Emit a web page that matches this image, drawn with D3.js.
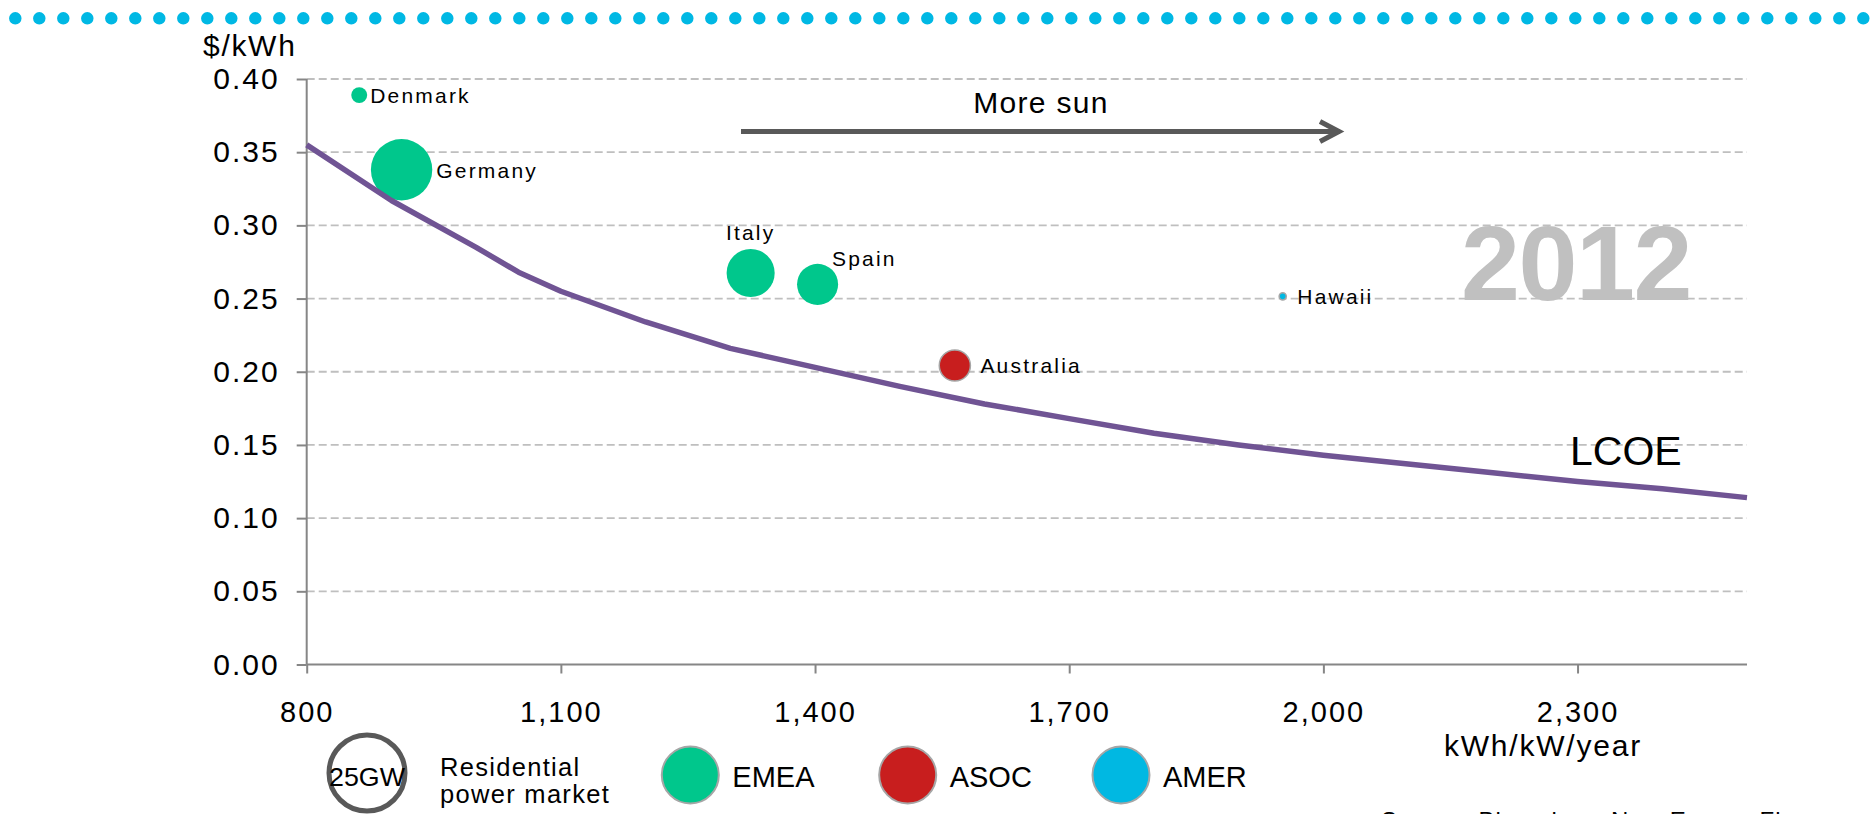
<!DOCTYPE html>
<html>
<head>
<meta charset="utf-8">
<script src="https://cdn.jsdelivr.net/npm/d3@7"></script>
<style>
  html, body { margin: 0; padding: 0; background: #fff; }
  svg { display: block; }
  text { font-family: "Liberation Sans", Arial, sans-serif; fill: #000; }
</style>
</head>
<body>
<svg id="chart" width="1874" height="814"></svg>
<script>
// ---------------- DATA ----------------
const xTicks = [800, 1100, 1400, 1700, 2000, 2300];
const yTicks = [0, 0.05, 0.10, 0.15, 0.20, 0.25, 0.30, 0.35, 0.40];

const markets    = ["Denmark", "Germany", "Italy", "Spain", "Australia", "Hawaii"];
const irradiance = [862, 912, 1324, 1403, 1565, 1952];          // kWh/kW/year
const price      = [0.389, 0.338, 0.2675, 0.2597, 0.2043, 0.2515]; // $/kWh
const marketGW   = [1.1, 16.3, 10.0, 7.3, 4.2, 0.22];            // residential power market
const regionOf   = ["EMEA", "EMEA", "EMEA", "EMEA", "ASOC", "AMER"];

const lcoeX = [800, 900, 1000, 1050, 1100, 1200, 1300, 1400, 1500, 1600, 1700, 1800, 1900, 2000, 2100, 2200, 2300, 2400, 2500];
const lcoeY = [0.355, 0.317, 0.285, 0.268, 0.255, 0.234, 0.216, 0.203, 0.190, 0.178, 0.168, 0.158, 0.150, 0.143, 0.137, 0.131, 0.125, 0.120, 0.114];

const regions      = ["EMEA", "ASOC", "AMER"];
const regionColors = ["#00C78C", "#C81E1E", "#00B8E2"];
const legendSizeGW = 25;
const yearLabel = "2012";

(function () {
// ---------------- LAYOUT ----------------
const svg = d3.select("#chart");
const pL = 306.7, pR = 1747, pT = 79, pB = 664.5;
const x = d3.scaleLinear().domain([800, 2500]).range([pL, pR]);
const y = d3.scaleLinear().domain([0, 0.40]).range([pB, pT]);
const r = d3.scaleSqrt().domain([0, legendSizeGW]).range([0, 38]);
const color = d3.scaleOrdinal().domain(regions).range(regionColors);

// top dotted decoration
svg.append("line")
  .attr("x1", 15.3).attr("x2", 1874).attr("y1", 18.3).attr("y2", 18.3)
  .attr("stroke", "#00B8E4").attr("stroke-width", 12.5)
  .attr("stroke-linecap", "round").attr("stroke-dasharray", "0 24");

// gridlines
svg.append("g").selectAll("line")
  .data(yTicks.filter(d => d > 0))
  .join("line")
  .attr("x1", pL).attr("x2", pR)
  .attr("y1", d => y(d)).attr("y2", d => y(d))
  .attr("stroke", "#BFBFBF").attr("stroke-width", 1.8)
  .attr("stroke-dasharray", "8,4");

// y axis
const yAxis = svg.append("g").attr("transform", `translate(${pL},0)`)
  .call(d3.axisLeft(y).tickValues(yTicks).tickFormat(d3.format(".2f"))
        .tickSize(10).tickPadding(17));
yAxis.select(".domain").attr("stroke", "#868686").attr("stroke-width", 2).attr("d", `M0,${pT}V${pB}`);
yAxis.selectAll(".tick line").attr("stroke", "#868686").attr("stroke-width", 2);
yAxis.selectAll(".tick text").attr("font-size", 30).attr("letter-spacing", 2)
  .attr("font-family", "Liberation Sans, Arial, sans-serif").attr("fill", "#000");

// x axis
const xAxis = svg.append("g").attr("transform", `translate(0,${pB})`)
  .call(d3.axisBottom(x).tickValues(xTicks).tickFormat(d3.format(","))
        .tickSize(9).tickPadding(28));
xAxis.select(".domain").attr("stroke", "#868686").attr("stroke-width", 2).attr("d", `M${pL},0H${pR}`);
xAxis.selectAll(".tick line").attr("stroke", "#868686").attr("stroke-width", 2);
xAxis.selectAll(".tick text").attr("font-size", 29).attr("letter-spacing", 2)
  .attr("font-family", "Liberation Sans, Arial, sans-serif").attr("fill", "#000");

// axis titles
svg.append("text").attr("x", 203).attr("y", 56)
  .attr("font-size", 30).attr("letter-spacing", 1.7).text("$/kWh");
svg.append("text").attr("x", 1543).attr("y", 756).attr("text-anchor", "middle")
  .attr("font-size", 30).attr("letter-spacing", 1.8).text("kWh/kW/year");

// year watermark
svg.append("text").attr("x", 1576).attr("y", 300).attr("text-anchor", "middle")
  .attr("font-size", 106).attr("font-weight", "bold").attr("letter-spacing", -1.5)
  .style("fill", "#C0C0C0").text(yearLabel);

// bubbles
const pts = markets.map((m, i) => ({
  name: m, x: irradiance[i], y: price[i], gw: marketGW[i], region: regionOf[i]
}));
svg.append("g").selectAll("circle")
  .data(pts).join("circle")
  .attr("cx", d => x(d.x)).attr("cy", d => y(d.y)).attr("r", d => r(d.gw))
  .attr("fill", d => color(d.region))
  .attr("stroke", d => d.region === "EMEA" ? "none" : "#A6A6A6")
  .attr("stroke-width", 1.5);

// LCOE line
svg.append("path")
  .datum(lcoeX.map((v, i) => [v, lcoeY[i]]))
  .attr("fill", "none").attr("stroke", "#705494").attr("stroke-width", 5.5)
  .attr("stroke-linejoin", "round")
  .attr("d", d3.line().x(d => x(d[0])).y(d => y(d[1])));

svg.append("text").attr("x", 1570).attr("y", 465)
  .attr("font-size", 41).text("LCOE");

// bubble labels
const labelLayout = {
  Denmark:   { pos: "right", gap: 3 },
  Germany:   { pos: "right", gap: 4 },
  Italy:     { pos: "above", gap: 9 },
  Spain:     { pos: "upright", gap: 0 },
  Australia: { pos: "right", gap: 10 },
  Hawaii:    { pos: "right", gap: 11 }
};
svg.append("g").selectAll("text")
  .data(pts).join("text")
  .attr("font-size", 21).attr("letter-spacing", 2.2)
  .attr("text-anchor", d => labelLayout[d.name].pos === "above" ? "middle" : "start")
  .attr("x", d => {
    const L = labelLayout[d.name], cx = x(d.x), rr = r(d.gw);
    if (L.pos === "right") return cx + rr + L.gap;
    if (L.pos === "above") return cx;
    return cx + rr * 0.7;
  })
  .attr("y", d => {
    const L = labelLayout[d.name], cy = y(d.y), rr = r(d.gw);
    if (L.pos === "right") return cy + 8;
    if (L.pos === "above") return cy - rr - L.gap;
    return cy - rr * 0.9;
  })
  .text(d => d.name);

// "More sun" arrow
svg.append("path")
  .attr("d", "M741,131.5H1337M1320,121.5L1339,131.5L1320,141.5")
  .attr("fill", "none").attr("stroke", "#595959").attr("stroke-width", 5)
  .attr("stroke-linejoin", "miter");
svg.append("text").attr("x", 1041).attr("y", 113).attr("text-anchor", "middle")
  .attr("font-size", 30).attr("letter-spacing", 1.3).text("More sun");

// legend
const lg = svg.append("g");
lg.append("circle").attr("cx", 367).attr("cy", 773).attr("r", r(legendSizeGW))
  .attr("fill", "#fff").attr("stroke", "#595959").attr("stroke-width", 5);
lg.append("text").attr("x", 367).attr("y", 786).attr("text-anchor", "middle")
  .attr("font-size", 25).attr("textLength", 76).attr("lengthAdjust", "spacingAndGlyphs")
  .text(legendSizeGW + "GW");
const resT = lg.append("text").attr("font-size", 25.5).attr("letter-spacing", 1.3);
resT.append("tspan").attr("x", 440).attr("y", 776).text("Residential");
resT.append("tspan").attr("x", 440).attr("y", 803).text("power market");

const legendX = [690.3, 907.7, 1121];
regions.forEach((reg, i) => {
  lg.append("circle").attr("cx", legendX[i]).attr("cy", 775).attr("r", 28.5)
    .attr("fill", color(reg)).attr("stroke", "#A6A6A6").attr("stroke-width", 2);
  lg.append("text").attr("x", legendX[i] + 42).attr("y", 786.5)
    .attr("font-size", 29).text(reg);
});

// source (cut off at bottom, as in the original)
svg.append("text").attr("x", 1381).attr("y", 829)
  .attr("font-size", 24).attr("letter-spacing", 1)
  .text("Source: Bloomberg New Energy Finance");
})();
</script>
</body>
</html>
